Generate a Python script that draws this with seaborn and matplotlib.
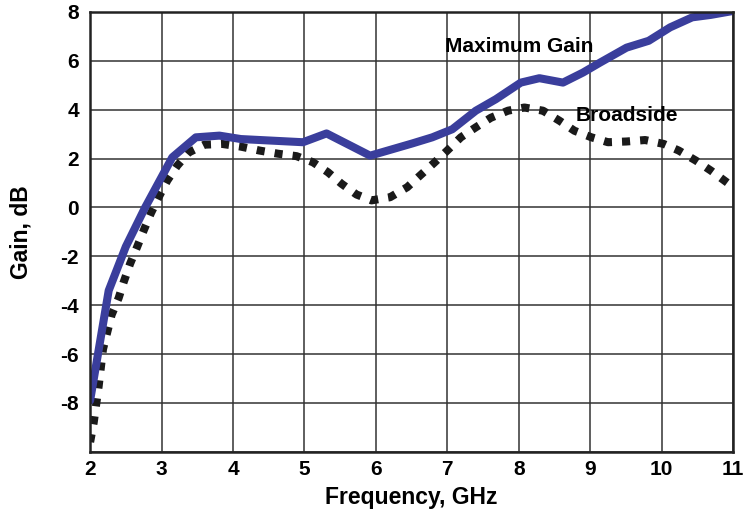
import matplotlib
matplotlib.use("Agg")
import matplotlib.pyplot as plt
import seaborn as sns
import pandas as pd

# Maximum gain curve (solid)
freq_max = [2.0, 2.26, 2.5, 2.77, 3.15, 3.48, 3.81, 4.11, 4.98, 5.31, 5.92, 6.51, 6.79, 7.07,
            7.4, 7.68, 8.03, 8.29, 8.62, 8.9, 9.14, 9.51, 9.82, 10.12, 10.43, 10.69, 11.0]
gain_max = [-7.9, -3.4, -1.6, 0.0, 2.05, 2.87, 2.94, 2.8, 2.67, 3.03, 2.12, 2.62, 2.87, 3.2,
            3.96, 4.43, 5.11, 5.29, 5.11, 5.52, 5.93, 6.54, 6.82, 7.37, 7.78, 7.88, 8.04]

# Broadside gain curve (dotted)
freq_bs = [2.0, 2.05, 2.12, 2.18, 2.3, 2.4, 2.47, 2.56, 2.66, 2.75, 2.85, 2.96, 3.08, 3.22,
           3.38, 3.6, 3.85, 4.11, 4.37, 4.63, 4.89, 5.12, 5.33, 5.52, 5.73, 5.94, 6.2, 6.44,
           6.62, 6.81, 7.0, 7.19, 7.4, 7.61, 7.85, 8.08, 8.34, 8.57, 8.78, 9.02, 9.25, 9.51,
           9.77, 10.03, 10.24, 10.48, 10.69, 10.95]
gain_bs = [-9.6, -8.8, -7.3, -5.8, -4.4, -3.7, -3.05, -2.3, -1.6, -0.94, -0.24, 0.42, 1.1, 1.71,
           2.25, 2.57, 2.6, 2.49, 2.33, 2.2, 2.1, 1.85, 1.44, 0.97, 0.53, 0.29, 0.42, 0.83,
           1.31, 1.81, 2.33, 2.87, 3.28, 3.67, 3.96, 4.09, 3.96, 3.55, 3.14, 2.87, 2.67, 2.7,
           2.76, 2.6, 2.33, 1.92, 1.51, 0.95]

x_ticks = [2, 3, 4, 5, 6, 7, 8, 9, 10, 11]
y_ticks = [-8, -6, -4, -2, 0, 2, 4, 6, 8]

df_max = pd.DataFrame({"freq": freq_max, "gain": gain_max})
df_bs = pd.DataFrame({"freq": freq_bs, "gain": gain_bs})

sns.set_style("white")
plt.rcParams["font.family"] = ["Liberation Sans", "DejaVu Sans"]
plt.rcParams["text.color"] = "black"
plt.rcParams["axes.labelcolor"] = "black"
plt.rcParams["xtick.color"] = "black"
plt.rcParams["ytick.color"] = "black"

fig = plt.figure(figsize=(7.51, 5.2), dpi=100)
ax = fig.add_axes([0.12, 0.131, 0.856, 0.846])

sns.lineplot(data=df_bs, x="freq", y="gain", ax=ax, color="#1a1a1a", linewidth=5.8,
             sort=False, estimator=None)
ax.lines[-1].set_dashes([1.0, 1.25])
ax.lines[-1].set_dash_capstyle("butt")
sns.lineplot(data=df_max, x="freq", y="gain", ax=ax, color="#3a3e9c", linewidth=5.8,
             sort=False, estimator=None)

ax.set_xlim(2, 11)
ax.set_ylim(-10, 8)
ax.set_xticks(x_ticks)
ax.set_yticks(y_ticks + [-10])
ax.set_yticklabels([str(t) for t in y_ticks] + [""])
ax.grid(True, color="#333333", linewidth=1.1)
ax.set_axisbelow(True)
for s in ax.spines.values():
    s.set_color("#222222")
    s.set_linewidth(1.8)

ax.tick_params(axis="both", labelsize=15, length=0)
ax.tick_params(axis="y", pad=8)
ax.tick_params(axis="x", pad=6)
for lbl in ax.get_xticklabels() + ax.get_yticklabels():
    lbl.set_fontweight("bold")

ax.set_xlabel("Frequency, GHz", fontsize=16.5, fontweight="bold", labelpad=5)
ax.set_ylabel("Gain, dB", fontsize=16.5, fontweight="bold", labelpad=20)

ax.text(8.01, 6.36, "Maximum Gain", fontsize=15, fontweight="bold", ha="center", va="baseline")
ax.text(9.52, 3.52, "Broadside", fontsize=15, fontweight="bold", ha="center", va="baseline")

fig.savefig("out.png", dpi=100)
